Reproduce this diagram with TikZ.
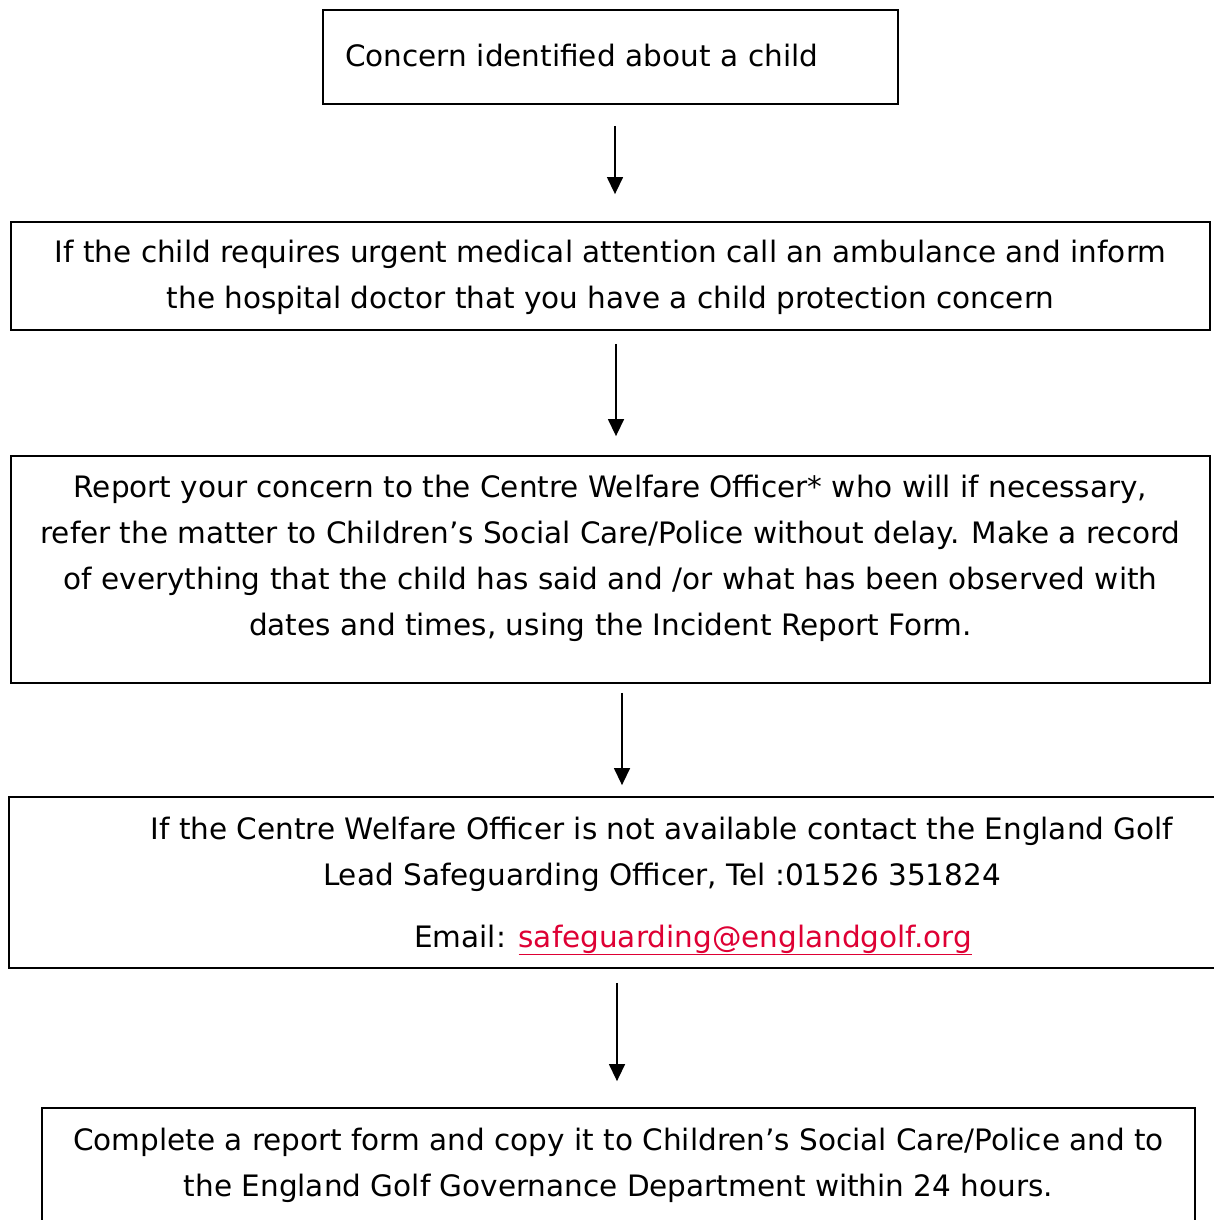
\documentclass[tikz,border=0pt]{standalone}
\usepackage{fontspec}
\setmainfont{DejaVu Sans}
\usetikzlibrary{arrows.meta}
\definecolor{linkred}{RGB}{222,0,52}

\begin{document}
\begin{tikzpicture}[x=1pt, y=-1pt,
		frame/.style={draw, line width=1.8pt, inner sep=0pt},
		txt/.style={align=center, inner sep=0pt, font=\fontsize{29.5}{46}\selectfont},
		flow/.style={line width=1.4pt, -{Triangle[width=16pt,length=17pt]}}]
	\clip (0,0) rectangle (1214,1220);

	% the five steps
	\node[frame, minimum width=575, minimum height=94] (concern) at (610.5,57) {};
	\node[txt, text width=531, align=left] (concerntext) at ([yshift=1]concern.center) {Concern identified about a child};

	\node[frame, minimum width=1199, minimum height=108] (medical) at (610.5,276) {};
	\node[txt] (medicaltext) at ([yshift=-1]medical.center) {If the child requires urgent medical attention call an ambulance and inform\\
		the hospital doctor that you have a child protection concern};

	\node[frame, minimum width=1199, minimum height=227] (report) at (610.5,569.5) {};
	\node[txt] (reporttext) at ([yshift=11]report.center) {Report your concern to the Centre Welfare Officer* who will if necessary,\\
		refer the matter to Children’s Social Care/Police without delay. Make a record\\
		of everything that the child has said and /or what has been observed with\\
		dates and times, using the Incident Report Form.};

	\node[frame, minimum width=1225, minimum height=171] (lead) at (621.5,882.5) {};
	\node[txt] (leadtext) at (662,886) {If the Centre Welfare Officer is not available contact the England Golf\\
		Lead Safeguarding Officer, Tel :01526 351824\\[16pt]
		\hspace*{62pt}Email: {\color{linkred}\underline{safeguarding@englandgolf.org}}};

	\node[frame, minimum width=1153, minimum height=140] (complete) at (618.5,1178) {};
	\node[txt] (completetext) at ([yshift=13]complete.center) {Complete a report form and copy it to Children’s Social Care/Police and to\\
		the England Golf Governance Department within 24 hours.};

	% arrows between them
	\foreach \a/\b/\dx/\s/\e in {concern/medical/4.5/21/27, medical/report/5.5/13/19,
			report/lead/11.5/9/11, lead/complete/-4.5/14/26}
		\draw[flow] ([xshift=\dx, yshift=-\s]\a.south) coordinate (t) -- ([yshift=\e]t |- \b.north);
\end{tikzpicture}
\end{document}
